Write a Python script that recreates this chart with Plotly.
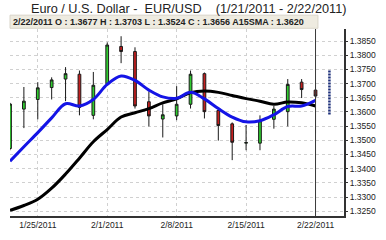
import plotly.graph_objects as go

dates = ["1/21/2011","1/24/2011","1/25/2011","1/26/2011","1/27/2011","1/28/2011","1/31/2011",
         "2/1/2011","2/2/2011","2/3/2011","2/4/2011","2/7/2011","2/8/2011","2/9/2011","2/10/2011",
         "2/11/2011","2/14/2011","2/15/2011","2/16/2011","2/17/2011","2/18/2011","2/21/2011","2/22/2011"]
opens  = [1.3471,1.3610,1.3644,1.3686,1.3716,1.3733,1.3588,1.3699,1.3831,1.3813,1.3636,1.3575,1.3586,
          1.3627,1.3735,1.3605,1.3558,1.3490,1.3490,1.3574,1.3601,1.3705,1.3677]
highs  = [1.3632,1.3688,1.3705,1.3722,1.3758,1.3746,1.3741,1.3845,1.3867,1.3828,1.3672,1.3627,1.3691,
          1.3746,1.3739,1.3610,1.3563,1.3554,1.3588,1.3621,1.3716,1.3716,1.3703]
lows   = [1.3465,1.3543,1.3574,1.3644,1.3638,1.3588,1.3574,1.3697,1.3772,1.3612,1.3549,1.3510,1.3571,
          1.3612,1.3577,1.3499,1.3430,1.3465,1.3465,1.3541,1.3549,1.3649,1.3524]
closes = [1.3628,1.3638,1.3685,1.3713,1.3735,1.3616,1.3694,1.3836,1.3813,1.3621,1.3586,1.3590,1.3627,
          1.3733,1.3601,1.3552,1.3493,1.3492,1.3569,1.3610,1.3697,1.3679,1.3656]
sma_fast = [1.3426,1.3477,1.3527,1.3579,1.3629,1.3621,1.3644,1.3697,1.3727,1.3711,1.3677,1.3653,1.3648,
            1.3669,1.3646,1.3612,1.3582,1.3565,1.3569,1.3590,1.3619,1.3621,1.3641]
sma15 = [1.3253,1.3270,1.3292,1.3331,1.3381,1.3437,1.3495,1.3538,1.3582,1.3597,1.3612,1.3632,1.3646,
         1.3668,1.3674,1.3669,1.3658,1.3647,1.3638,1.3627,1.3635,1.3632,1.3621]
forecast_range = [1.3746, 1.3590]
tick_idx = [2, 7, 12, 17, 22]
tick_labels = ["1/25/2011", "2/1/2011", "2/8/2011", "2/15/2011", "2/22/2011"]
y_ticks = [1.3250,1.3300,1.3350,1.3400,1.3450,1.3500,1.3550,1.3600,1.3650,1.3700,1.3750,1.3800,1.3850]
info_text = "2/22/2011 O : 1.3677 H : 1.3703 L : 1.3524 C : 1.3656 A15SMA : 1.3620"
title_text = "Euro / U.S. Dollar -  EUR/USD    (1/21/2011 - 2/22/2011)"

idx = list(range(len(dates)))
FONT = "Liberation Sans, Arial, sans-serif"

fig = go.Figure()
fig.add_trace(go.Candlestick(
    x=idx, open=opens, high=highs, low=lows, close=closes,
    increasing=dict(line=dict(color="#1a1a1a", width=1), fillcolor="#2fcc2f"),
    decreasing=dict(line=dict(color="#1a1a1a", width=1), fillcolor="#c41f1f"),
    whiskerwidth=0, showlegend=False, hoverinfo="skip"))
fig.add_trace(go.Scatter(x=idx, y=sma15, mode="lines", line=dict(color="#000000", width=3, shape="spline"),
                         showlegend=False, hoverinfo="skip"))
fig.add_trace(go.Scatter(x=idx, y=sma_fast, mode="lines", line=dict(color="#1414e6", width=3, shape="spline"),
                         showlegend=False, hoverinfo="skip"))
fig.add_trace(go.Scatter(x=[len(dates), len(dates)], y=forecast_range, mode="lines",
                         line=dict(color="#1c2f7a", width=2.5, dash="2px,1px"),
                         showlegend=False, hoverinfo="skip"))

# cursor line at last date
fig.add_shape(type="line", xref="x", yref="paper", x0=idx[-1], x1=idx[-1], y0=0, y1=1,
              line=dict(color="#3a3a3a", width=1))
# info bar
fig.add_shape(type="rect", xref="paper", yref="paper", x0=0, x1=0.922, y0=1.004, y1=1.074,
              line=dict(color="#d8d4c8", width=1), fillcolor="#eeebe0", layer="above")
fig.add_annotation(text="<b>" + info_text + "</b>", xref="paper", yref="paper", x=0.004, y=1.039,
                   xanchor="left", yanchor="middle", showarrow=False,
                   font=dict(family=FONT, size=9, color="#222222"))
fig.add_annotation(text=title_text, xref="paper", yref="paper", x=0.535, y=1.108,
                   xanchor="center", yanchor="middle", showarrow=False,
                   font=dict(family=FONT, size=12.7, color="#222222"))

fig.update_layout(
    width=386, height=240, margin=dict(l=10, r=31, t=29, b=14),
    paper_bgcolor="white", plot_bgcolor="white", boxgap=0.72,
    font=dict(family=FONT, size=8.5, color="#222222"),
    xaxis=dict(range=[0, 24.05], tickvals=tick_idx, ticktext=tick_labels,
               showgrid=True, gridcolor="#d0d0d0", griddash="dot", gridwidth=1,
               showline=True, linecolor="#333333", linewidth=2, ticks="", ticklen=0,
               rangeslider=dict(visible=False), zeroline=False, tickfont=dict(size=8.5)),
    yaxis=dict(side="right", range=[1.3233, 1.38925], tickvals=y_ticks,
               tickformat=".4f", showgrid=True, gridcolor="#d0d0d0", griddash="dot", gridwidth=1,
               showline=True, linecolor="#333333", linewidth=2, ticks="outside", ticklen=2,
               tickcolor="#333333", zeroline=False, tickfont=dict(size=8.5)),
)
fig.write_html("out.html")
